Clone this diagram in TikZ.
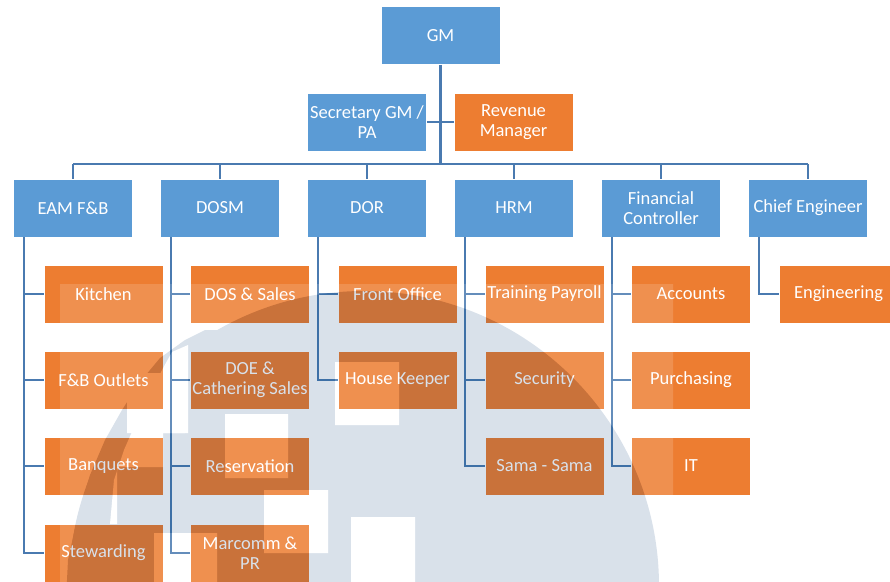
\documentclass[tikz,border=0pt]{standalone}
\usepackage{fontspec}
\setmainfont{Carlito}

\definecolor{headblue}{HTML}{5B9BD5}
\definecolor{unitorange}{HTML}{ED7D31}
\definecolor{linkblue}{HTML}{4A7AB0}
\definecolor{marknavy}{RGB}{0,55,115}

\begin{document}
\begin{tikzpicture}[
    x=1pt, y=-1pt,
    every node/.style={
        font=\fontsize{18.5}{20.5}\selectfont,
        text=white
    },
    head/.style={
        minimum width=119pt, minimum height=58pt,
        inner xsep=0pt,
        align=center,
        rectangle,
        fill=headblue,
        draw=white, line width=0.8pt
    },
    unit/.style={
        minimum width=119pt, minimum height=58pt,
        inner xsep=0pt,
        align=center,
        rectangle,
        fill=unitorange,
        draw=white, line width=0.8pt
    },
    link/.style={
        draw=linkblue, line width=2.2pt
    }
]
\useasboundingbox (0,0) rectangle (890,581);

% top of the chart
\node (n1)  [head] at (440.5,35.5) {GM};
\node (n2)  [head] at (367,122)    {Secretary GM /\\PA};
\node (n3)  [unit] at (513.5,122)  {Revenue\\Manager};

% directors
\node (n4)  [head] at (73,208)  {EAM F\&B};
\node (n5)  [head] at (220,208) {DOSM};
\node (n6)  [head] at (367,208) {DOR};
\node (n7)  [head] at (514,208) {HRM};
\node (n8)  [head] at (661,208) {Financial\\Controller};
\node (n9)  [head] at (808,208) {Chief Engineer};

% departments
\node (n10) [unit] at (103.5,294) {Kitchen};
\node (n11) [unit] at (103.5,380) {F\&B Outlets};
\node (n12) [unit] at (103.5,466) {Banquets};
\node (n13) [unit] at (103.5,553) {Stewarding};

\node (n14) [unit] at (250,294) {DOS \& Sales};
\node (n15) [unit] at (250,380) {DOE \&\\Cathering Sales};
\node (n16) [unit] at (250,466) {Reservation};
\node (n17) [unit] at (250,553) {Marcomm \&\\PR};

\node (n18) [unit] at (397.5,294) {Front Office};
\node (n19) [unit] at (397.5,380) {House Keeper};

\node (n20) [unit] at (544.5,294) {Training Payroll};
\node (n21) [unit] at (544.5,380) {Security};
\node (n22) [unit] at (544.5,466) {Sama - Sama};

\node (n23) [unit] at (691,294) {Accounts};
\node (n24) [unit] at (691,380) {Purchasing};
\node (n25) [unit] at (691,466) {IT};

\node (n26) [unit] at (838.5,294) {Engineering};

% GM down to the directors
\coordinate (bus) at (440.5,164);
\draw[link] (n1.south) -- (bus);
\draw[link] (n2.east) -- (n3.west);
\draw[link] (n4.north |- bus) -- (n9.north |- bus);
\draw[link] (n4.north |- bus) -- (n4.north);
\draw[link] (n5.north |- bus) -- (n5.north);
\draw[link] (n6.north |- bus) -- (n6.north);
\draw[link] (n7.north |- bus) -- (n7.north);
\draw[link] (n8.north |- bus) -- (n8.north);
\draw[link] (n9.north |- bus) -- (n9.north);

% directors down to the departments
\coordinate (s4) at ([xshift=11pt]n4.south west);
\coordinate (s5) at ([xshift=11pt]n5.south west);
\coordinate (s6) at ([xshift=11pt]n6.south west);
\coordinate (s7) at ([xshift=11pt]n7.south west);
\coordinate (s8) at ([xshift=11pt]n8.south west);
\coordinate (s9) at ([xshift=11pt]n9.south west);

\draw[link] (s4) |- (n13.west);
\draw[link] (s4 |- n10.west) -- (n10.west);
\draw[link] (s4 |- n11.west) -- (n11.west);
\draw[link] (s4 |- n12.west) -- (n12.west);

\draw[link] (s5) |- (n17.west);
\draw[link] (s5 |- n14.west) -- (n14.west);
\draw[link] (s5 |- n15.west) -- (n15.west);
\draw[link] (s5 |- n16.west) -- (n16.west);

\draw[link] (s6) |- (n19.west);
\draw[link] (s6 |- n18.west) -- (n18.west);

\draw[link] (s7) |- (n22.west);
\draw[link] (s7 |- n20.west) -- (n20.west);
\draw[link] (s7 |- n21.west) -- (n21.west);

\draw[link] (s8) |- (n25.west);
\draw[link] (s8 |- n23.west) -- (n23.west);
\draw[link] (s8 |- n24.west) -- (n24.west);

\draw[link] (s9) |- (n26.west);

% faint round mark over the lower part
\begin{scope}[transparency group, opacity=0.15]
    \fill[white] (60,284) rectangle (673,600);
    \fill[marknavy] (364,586) circle[radius=295];
    \fill[marknavy] (205,330) -- (185,340) -- (160,358) -- (140,382)
        -- (122,410) -- (105,440) -- (90,475) -- (78,515) -- (68,560)
        -- (66,600) -- (220,600) -- (220,330) -- cycle;
    \fill[white] (172,352) -- (188,345) -- (188,433) -- (163,433)
        -- (163,467) -- (117,467) -- (117,524) -- (110,524) -- (114,480)
        -- (124,450) -- (135,425) -- (150,395) -- (162,370) -- cycle;
    \fill[white] (127,373) rectangle (185,433);
    \fill[white] (225,414) rectangle (288,478);
    \fill[white] (264,490) rectangle (328,553);
    \fill[white] (351,517) rectangle (415,600);
    \fill[white] (335,362) rectangle (399,425);
    \fill[white] (154,533) rectangle (217,600);
\end{scope}
\end{tikzpicture}
\end{document}
